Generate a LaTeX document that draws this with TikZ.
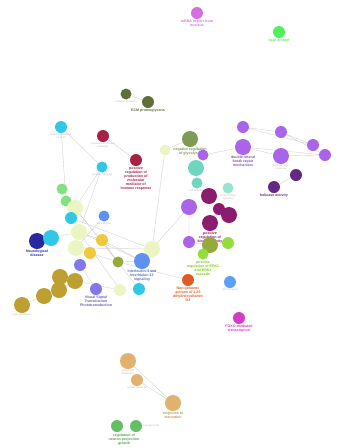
\documentclass[tikz,border=0pt]{standalone}
\usepackage{fontspec}
\setmainfont{Liberation Sans}
\usepackage{tikz}
\usetikzlibrary{backgrounds}

\definecolor{mrna}{RGB}{214,110,226}
\definecolor{lipid}{RGB}{80,240,90}
\definecolor{ecm}{RGB}{96,110,58}
\definecolor{cyanish}{RGB}{48,200,230}
\definecolor{crim}{RGB}{168,32,68}
\definecolor{lgreen}{RGB}{130,225,130}
\definecolor{pale}{RGB}{234,245,195}
\definecolor{bluish}{RGB}{95,145,240}
\definecolor{glyc}{RGB}{125,155,85}
\definecolor{violet}{RGB}{170,100,234}
\definecolor{teal}{RGB}{112,215,190}
\definecolor{plum}{RGB}{140,28,110}
\definecolor{lime}{RGB}{150,220,60}
\definecolor{limetext}{RGB}{130,200,30}
\definecolor{olivelime}{RGB}{150,170,60}
\definecolor{orangered}{RGB}{225,90,35}
\definecolor{sky}{RGB}{90,160,245}
\definecolor{foxo}{RGB}{210,60,200}
\definecolor{dkpurple}{RGB}{100,40,130}
\definecolor{navy}{RGB}{40,40,160}
\definecolor{yellowish}{RGB}{240,200,60}
\definecolor{iris}{RGB}{130,120,235}
\definecolor{gold}{RGB}{190,160,50}
\definecolor{tan}{RGB}{225,178,110}
\definecolor{leaf}{RGB}{100,190,100}

\begin{document}
\begin{tikzpicture}[x=1pt,y=-1pt,
    term/.style={circle,fill=#1,inner sep=0pt,minimum size=12pt},
    big/.style={minimum size=16pt},
    small/.style={minimum size=11pt},
    lbl/.style={font=\fontsize{3.6}{4}\selectfont\bfseries,align=center,text=#1,inner sep=0.5pt},
    sub/.style={font=\fontsize{2.6}{3}\selectfont,align=center,text=gray!55,inner sep=0.5pt},
    link/.style={draw=gray!35,line width=0.4pt}]
  \useasboundingbox (0,0) rectangle (340,448);

  % lone terms at the top
  \node (mrna)   [term=mrna,label={[lbl=mrna]below:mRNA export from\\nucleus}]         at (197,13)  {};
  \node (lipid)  [term=lipid,label={[lbl=lipid]below:lipid droplet}]                     at (279,32)  {};
  \node (ecma)   [term=ecm,small,label={[sub]below:collagen formation}]                  at (126,94)  {};
  \node (ecmb)   [term=ecm,label={[lbl=ecm]below:ECM proteoglycans}]                     at (148,102) {};

  % immune / synapse group
  \node (cya)    [term=cyanish,label={[sub]below:sensory perception\\of smell}]          at (61,127)  {};
  \node (cra)    [term=crim,label={[sub]below:regulation of immune\\response}]           at (103,136) {};
  \node (crb)    [term=crim,label={[lbl=crim]below:positive\\regulation of\\production of\\molecular\\mediator of\\immune response}] at (136,160) {};
  \node (cyb)    [term=cyanish,small,label={[sub]below:synaptic signaling}]              at (102,167) {};
  \node (gra)    [term=lgreen,small]                                                     at (62,189)  {};
  \node (grb)    [term=lgreen,small]                                                     at (66,201)  {};
  \node (pla)    [term=pale,big]                                                         at (75,208)  {};
  \node (cyc)    [term=cyanish]                                                          at (71,218)  {};
  \node (blua)   [term=bluish,small,label={[sub]below:ion transport}]                    at (104,216) {};

  % glycolysis / teal / kinase group
  \node (plb)    [term=pale,small]                                                       at (165,150) {};
  \node (glyc)   [term=glyc,big,label={[lbl=glyc!80!gray]below:negative regulation\\of glycolysis}] at (190,139) {};
  \node (vio)    [term=violet,small]                                                     at (203,155) {};
  \node (tea)    [term=teal,big]                                                         at (196,168) {};
  \node (teb)    [term=teal,small,label={[sub]below:cell adhesion}]                      at (197,183) {};
  \node (tec)    [term=teal!70,small,label={[sub]below:Rho GTPase\\signaling}]           at (228,188) {};
  \node (pma)    [term=plum,big]                                                         at (209,196) {};
  \node (pmb)    [term=plum]                                                             at (219,209) {};
  \node (pmc)    [term=plum,big]                                                         at (229,215) {};
  \node (pmd)    [term=plum,big,label={[lbl=plum]below:positive\\regulation of\\kinase activity}] at (210,223) {};
  \node (viob)   [term=violet,big]                                                       at (189,207) {};
  \node (vioc)   [term=violet]                                                           at (189,242) {};
  \node (olv)    [term=olivelime,big]                                                    at (210,245) {};
  \node (lma)    [term=lime]                                                             at (228,243) {};
  \node (lmb)    [term=lime,small,label={[lbl=limetext]below:positive\\regulation of ERK1\\and ERK2\\cascade}] at (203,254) {};
  \node (orng)   [term=orangered,label={[lbl=orangered]below:Non-genomic\\actions of 1,25\\dihydroxyvitamin\\D3}] at (188,280) {};
  \node (sky)    [term=sky,label={[sub]below:GPCR ligand}]                               at (230,282) {};
  \node (foxo)   [term=foxo,label={[lbl=foxo]below:FOXO-mediated\\transcription}]        at (239,318) {};

  % violet group at the right
  \node (pua)    [term=violet]                                                           at (243,127) {};
  \node (pub)    [term=violet]                                                           at (281,132) {};
  \node (puc)    [term=violet]                                                           at (313,145) {};
  \node (pud)    [term=violet]                                                           at (325,155) {};
  \node (pue)    [term=violet,big,label={[lbl=violet!80!black]below:double-strand\\break repair\\mechanism}] at (243,147) {};
  \node (puf)    [term=violet,big,label={[sub]below:DNA damage\\response}]               at (281,156) {};
  \node (dpa)    [term=dkpurple]                                                         at (296,175) {};
  \node (dpb)    [term=dkpurple,label={[lbl=dkpurple]below:helicase activity}]           at (274,187) {};

  % left groups
  \node (navy)   [term=navy,big,label={[lbl=navy]below:Neurological\\disease}]           at (37,241)  {};
  \node (cyd)    [term=cyanish,big]                                                      at (51,238)  {};
  \node (plc)    [term=pale,big]                                                         at (79,232)  {};
  \node (pld)    [term=pale,big]                                                         at (76,248)  {};
  \node (yla)    [term=yellowish]                                                        at (102,240) {};
  \node (ylb)    [term=yellowish]                                                        at (90,253)  {};
  \node (ira)    [term=iris]                                                             at (80,265)  {};
  \node (olw)    [term=olivelime,small]                                                  at (118,262) {};
  \node (ple)    [term=pale,big]                                                         at (152,249) {};
  \node (il)     [term=bluish,big,label={[lbl=bluish!80!black]below:Interleukin-4 and\\Interleukin-13\\signaling}] at (142,261) {};
  \node (cye)    [term=cyanish]                                                          at (139,289) {};
  \node (plf)    [term=pale]                                                             at (120,290) {};
  \node (irb)    [term=iris,label={[lbl=iris!80!black]below:Visual Signal\\Transduction\\Phototransduction}] at (96,289) {};
  \node (gda)    [term=gold,big]                                                         at (60,277)  {};
  \node (gdb)    [term=gold,big]                                                         at (75,281)  {};
  \node (gdc)    [term=gold,big]                                                         at (59,290)  {};
  \node (gdd)    [term=gold,big]                                                         at (44,296)  {};
  \node (gde)    [term=gold,big,label={[sub]below:lipid metabolism}]                     at (22,305)  {};

  % bottom groups
  \node (tna)    [term=tan,big,label={[sub]below:amino acid\\metabolism}]                at (128,361) {};
  \node (tnb)    [term=tan,label={[sub]below:cellular response}]                         at (137,380) {};
  \node (tnc)    [term=tan,big,label={[lbl=tan!85!black]below:response to\\starvation}]  at (173,403) {};
  \node (lfa)    [term=leaf]                                                             at (117,426) {};
  \node (lfb)    [term=leaf,label={[sub]right:axonogenesis}]                             at (136,426) {};
  \node (lfl)    [lbl=leaf!85!black,below=5pt] at (124,428) {regulation of\\neuron projection\\growth};

  \begin{pgfonlayer}{background}
    \path[link] (ecma) -- (ecmb);
    \path[link] (cya) -- (grb)  (cya) -- (cyb)  (cra) -- (crb)  (cyb) -- (pla);
    \path[link] (gra) -- (grb)  (grb) -- (pla)  (pla) -- (cyc)  (cyb) -- (plc);
    \path[link] (plb) -- (ple)  (plb) -- (glyc)  (glyc) -- (vio)  (vio) -- (tea);
    \path[link] (tea) -- (teb)  (viob) -- (vioc)  (vioc) -- (olv)  (olv) -- (lma);
    \path[link] (olv) -- (lmb)  (pma) -- (pmb)  (pmb) -- (pmc)  (pmb) -- (pmd);
    \path[link] (pua) -- (pub)  (pua) -- (puc)  (pub) -- (puc)  (pub) -- (pud);
    \path[link] (pue) -- (puf)  (pue) -- (pud)  (puf) -- (pud)  (dpa) -- (dpb);
    \path[link] (pue) -- (vio);
    \path[link] (cyd) -- (plc)  (plc) -- (yla)  (pld) -- (ylb)  (pld) -- (ple);
    \path[link] (plc) -- (il)  (yla) -- (olw)  (ylb) -- (olw)  (olw) -- (il);
    \path[link] (pla) -- (cye)  (plc) -- (plf)  (ira) -- (irb)  (il) -- (ple);
    \path[link] (ple) -- (viob)  (olw) -- (orng)  (il) -- (cye)  (plf) -- (gdb);
    \path[link] (pla) -- (olw)  (cyc) -- (ple)  (yla) -- (il)  (blua) -- (pld);
    \path[link] (gda) -- (gdb)  (gdb) -- (gdc)  (gdc) -- (gdd)  (gdd) -- (gde);
    \path[link] (tna) -- (tnc)  (tnb) -- (tnc)  (lfa) -- (lfb);
  \end{pgfonlayer}
\end{tikzpicture}
\end{document}
